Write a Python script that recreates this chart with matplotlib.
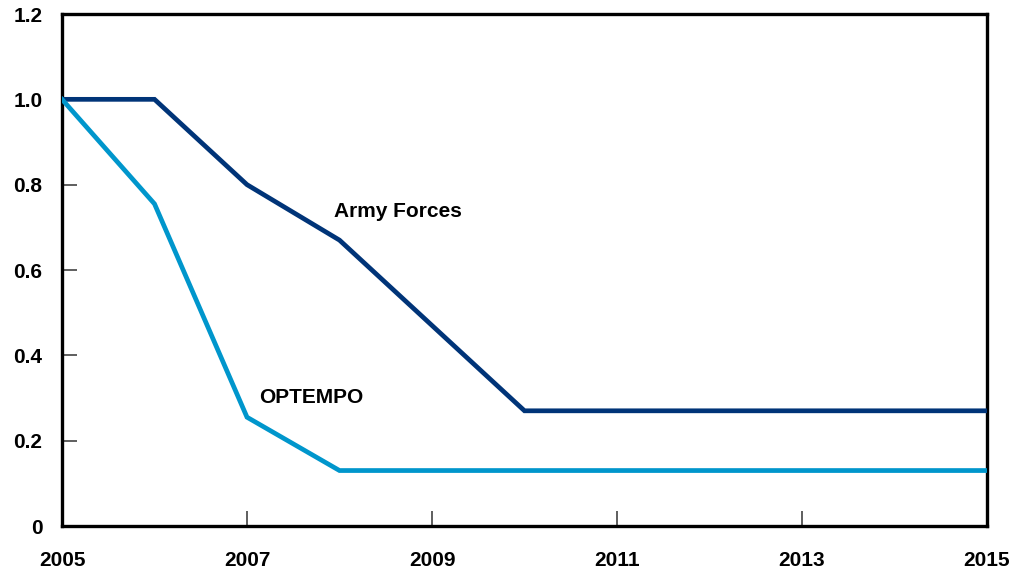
import matplotlib.pyplot as plt

plt.rcParams['font.family'] = ['Liberation Sans', 'DejaVu Sans']
plt.rcParams['font.weight'] = 'bold'

# series
army_years = [2005, 2006, 2007, 2008, 2010, 2015]
army_vals = [1.0, 1.0, 0.80, 0.67, 0.27, 0.27]
optempo_years = [2005, 2006, 2007, 2008, 2015]
optempo_vals = [1.0, 0.755, 0.255, 0.13, 0.13]

x_ticks = [2005, 2007, 2009, 2011, 2013, 2015]
y_ticks = [0, 0.2, 0.4, 0.6, 0.8, 1.0, 1.2]
y_labels = ['0', '0.2', '0.4', '0.6', '0.8', '1.0', '1.2']

fig = plt.figure(figsize=(10.14, 5.73), dpi=100)
ax = fig.add_axes([62/1014, 1 - 526/573, (987-62)/1014, (526-14)/573])

ax.plot(army_years, army_vals, color='#003478', lw=3.4, solid_joinstyle='miter', zorder=3)
ax.plot(optempo_years, optempo_vals, color='#0096cc', lw=3.4, solid_joinstyle='miter', zorder=3)

ax.text(2008.63, 0.738, 'Army Forces', fontsize=15, fontweight='bold', ha='center', va='center')
ax.text(2007.69, 0.302, 'OPTEMPO', fontsize=15, fontweight='bold', ha='center', va='center')

ax.set_xlim(2005, 2015)
ax.set_ylim(0, 1.2)
ax.set_xticks(x_ticks)
ax.set_yticks(y_ticks)
ax.set_yticklabels(y_labels)
for s in ax.spines.values():
    s.set_linewidth(2.4)
ax.tick_params(direction='in', length=11, width=1.1, color='#333333', labelsize=15)
ax.tick_params(axis='x', pad=18)
ax.tick_params(axis='y', pad=14)

fig.savefig('out.png', dpi=100)
